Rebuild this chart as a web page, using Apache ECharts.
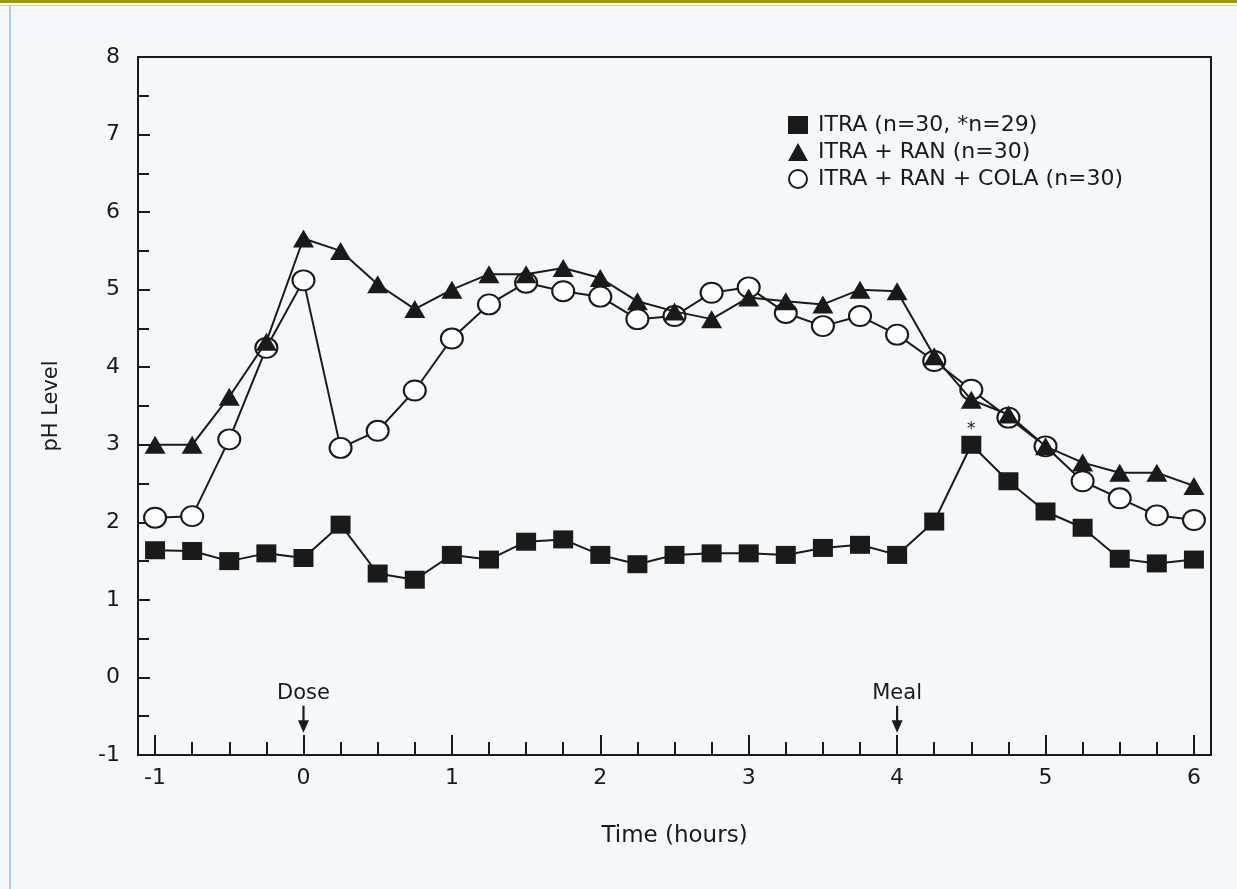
<!DOCTYPE html>
<html>
<head>
<meta charset="utf-8">
<script src="https://cdn.jsdelivr.net/npm/echarts@6.0.0/dist/echarts.min.js"></script>
<style>
  html, body { margin: 0; padding: 0; background: #f4f8fb; }
  #page { position: relative; width: 1237px; height: 889px; overflow: hidden; background: #f4f8fb; }
  #band { position: absolute; left: 0; top: 0; width: 1237px; height: 3px; background: #9c9a10; }
  #rule { position: absolute; left: 0; top: 5px; width: 1237px; height: 1px; background: #b7d7f4; }
  #edge { position: absolute; left: 9px; top: 5px; width: 2px; height: 884px; background: #a9cdf0; }
  #chart { position: absolute; left: 0; top: 0; width: 1237px; height: 889px; }
</style>
</head>
<body>
<div id="page">
  <div id="band"></div>
  <div id="rule"></div>
  <div id="edge"></div>
  <div id="chart"></div>
</div>
<script>
const hours = [-1, -0.75, -0.5, -0.25, 0, 0.25, 0.5, 0.75, 1, 1.25, 1.5, 1.75, 2, 2.25, 2.5, 2.75,
  3, 3.25, 3.5, 3.75, 4, 4.25, 4.5, 4.75, 5, 5.25, 5.5, 5.75, 6];
const itra = [1.64, 1.63, 1.5, 1.6, 1.54, 1.97, 1.34, 1.26, 1.58, 1.52, 1.75, 1.78, 1.58, 1.46, 1.58, 1.6,
  1.6, 1.58, 1.67, 1.71, 1.58, 2.01, 3.0, 2.53, 2.14, 1.93, 1.53, 1.47, 1.52];
const itraRan = [3.0, 3.0, 3.62, 4.33, 5.66, 5.5, 5.07, 4.75, 5.0, 5.2, 5.2, 5.28, 5.15, 4.85, 4.72, 4.62,
  4.9, 4.85, 4.81, 5.0, 4.98, 4.14, 3.58, 3.39, 2.98, 2.77, 2.64, 2.64, 2.47];
const itraRanCola = [2.06, 2.08, 3.07, 4.25, 5.12, 2.96, 3.18, 3.7, 4.37, 4.81, 5.09, 4.98, 4.91, 4.62, 4.66, 4.96,
  5.03, 4.7, 4.53, 4.66, 4.42, 4.08, 3.71, 3.35, 2.98, 2.53, 2.31, 2.09, 2.03];
const seriesNames = ["ITRA (n=30, *n=29)", "ITRA + RAN (n=30)", "ITRA + RAN + COLA (n=30)"];
const starHour = 4.5; // point measured on n=29
const eventHours = [0, 4];
const eventLabels = ["Dose", "Meal"];
const majorTicks = [-1, 0, 1, 2, 3, 4, 5, 6];
const minorTicks = hours.filter((h) => !Number.isInteger(h));

const ink = "#1a1a1a";
const font = "DejaVu Sans";
// down arrow: shaft + filled head
const arrowPath = "path://M4,0 L6,0 L6,14 L10,14 L5,26 L0,14 L4,14 Z";

const pairs = (ys) => hours.map((h, i) => [h, ys[i]]);

const chart = echarts.init(document.getElementById("chart"), null, { renderer: "canvas" });
chart.setOption({
  animation: false,
  backgroundColor: "transparent",
  textStyle: { fontFamily: font, color: ink },
  grid: {
    left: 138, right: 26, top: 57, bottom: 134,
    show: true, borderColor: ink, borderWidth: 2,
    outerBoundsMode: "none",
  },
  legend: {
    orient: "vertical",
    left: 783, top: 109,
    itemWidth: 20, itemHeight: 18, itemGap: 5,
    symbolKeepAspect: false,
    selectedMode: false,
    textStyle: { fontSize: 22, fontFamily: font, color: ink, padding: [0, 0, 0, 5] },
    data: [
      { name: seriesNames[0], icon: "rect", itemStyle: { color: ink, borderWidth: 0 } },
      { name: seriesNames[1], icon: "triangle", itemStyle: { color: ink, borderWidth: 0 } },
      { name: seriesNames[2], icon: "circle", itemStyle: { color: "#fbfdfe", borderColor: ink, borderWidth: 2 } },
    ],
  },
  xAxis: [
    {
      type: "value", min: -1.115, max: 6.115,
      name: "Time (hours)", nameLocation: "middle", nameGap: 70,
      nameTextStyle: { fontSize: 23, fontFamily: font, color: ink },
      axisLine: { onZero: false, lineStyle: { color: ink, width: 2 } },
      axisTick: { customValues: majorTicks, inside: true, length: 20, lineStyle: { color: ink, width: 2 } },
      axisLabel: { customValues: majorTicks, fontSize: 22, fontFamily: font, color: ink, margin: 12 },
      splitLine: { show: false },
    },
    {
      type: "value", min: -1.115, max: 6.115, position: "bottom",
      axisLine: { show: false, onZero: false },
      axisTick: { customValues: minorTicks, inside: true, length: 13, lineStyle: { color: ink, width: 2 } },
      axisLabel: { show: false },
      splitLine: { show: false },
    },
  ],
  yAxis: {
    type: "value", min: -1, max: 8, interval: 1,
    name: "pH Level", nameLocation: "middle", nameGap: 76, nameRotate: 90,
    nameTextStyle: { fontSize: 21, fontFamily: font, color: ink },
    axisLine: { onZero: false, lineStyle: { color: ink, width: 2 } },
    axisTick: { inside: true, length: 12, lineStyle: { color: ink, width: 2 } },
    minorTick: { show: true, splitNumber: 2, length: 11, lineStyle: { color: ink, width: 2 } },
    axisLabel: { fontSize: 22, fontFamily: font, color: ink, margin: 18 },
    splitLine: { show: false },
  },
  series: [
    {
      name: seriesNames[2],
      type: "line",
      data: pairs(itraRanCola),
      symbol: "circle",
      symbolSize: [22, 20],
      z: 2,
      lineStyle: { color: ink, width: 2 },
      itemStyle: { color: "#fbfdfe", borderColor: ink, borderWidth: 2 },
    },
    {
      name: seriesNames[1],
      type: "line",
      data: pairs(itraRan),
      symbol: "triangle",
      symbolSize: [21, 18],
      z: 3,
      lineStyle: { color: ink, width: 2 },
      itemStyle: { color: ink, borderWidth: 0 },
    },
    {
      name: seriesNames[0],
      type: "line",
      data: hours.map((h, i) => {
        const item = { value: [h, itra[i]] };
        if (h === starHour) {
          item.label = { show: true, position: "top", distance: -2, formatter: "*", fontSize: 17, fontFamily: font, color: ink };
        }
        return item;
      }),
      symbol: "rect",
      symbolSize: [20, 18],
      z: 4,
      lineStyle: { color: ink, width: 2 },
      itemStyle: { color: ink, borderWidth: 0 },
    },
    {
      name: "events",
      type: "scatter",
      data: eventHours.map((h, i) => ({ value: [h, -0.54], name: eventLabels[i] })),
      symbol: arrowPath,
      symbolSize: [11, 27],
      symbolKeepAspect: false,
      itemStyle: { color: ink, opacity: 1 },
      label: {
        show: true, position: "top", distance: 2,
        formatter: (p) => p.name,
        fontSize: 21, fontFamily: font, color: ink, opacity: 1,
      },
      silent: true,
      z: 5,
    },
  ],
});
</script>
</body>
</html>
